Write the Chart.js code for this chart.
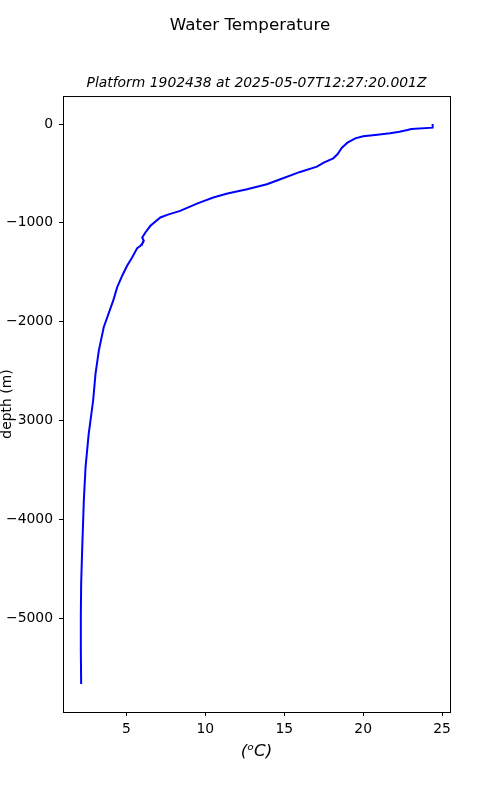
<!DOCTYPE html>
<html>
<head>
<meta charset="utf-8">
<script src="https://cdn.jsdelivr.net/npm/chart.js@4/dist/chart.umd.min.js"></script>
<style>
  html, body { margin: 0; padding: 0; background: #fff; }
  canvas { display: block; }
</style>
</head>
<body>
<canvas id="tempChart" width="500" height="800"></canvas>
<script>
// Profile, surface to bottom
const depth = [0, -37, -50, -60, -78, -94, -108, -125, -145, -189, -240, -306, -347, -391, -431, -485,
    -559, -609, -660, -704, -744, -805, -879, -919, -946, -1030, -1098, -1148, -1182, -1198, -1232, -1256,
    -1350, -1434, -1535, -1653, -1788, -2057, -2293, -2528, -2798, -3134, -3471, -3808, -4279, -4650,
    -4987, -5323, -5667];
const temperature = [24.4, 24.4, 23.05, 22.8, 22.3, 21.7, 20.9, 20.0, 19.5, 19.0, 18.65, 18.37, 18.1, 17.5, 17.07, 16.0,
    14.75, 13.9, 12.64, 11.4, 10.5, 9.47, 8.4, 7.58, 7.15, 6.52, 6.2, 6.0, 6.1, 6.05, 5.89, 5.68,
    5.36, 5.04, 4.73, 4.41, 4.16, 3.56, 3.25, 3.04, 2.89, 2.61, 2.41, 2.3, 2.2, 2.13,
    2.11, 2.11, 2.13];
const xTicks = [5, 10, 15, 20, 25];
const yTicks = [0, -1000, -2000, -3000, -4000, -5000];
const subtitleText = 'Platform 1902438 at 2025-05-07T12:27:20.001Z';

const FONT = "'DejaVu Sans', sans-serif";

// top/right spines, plus the subtitle centred over the axes (like matplotlib's ax title)
const frame = {
    id: 'frame',
    afterDraw(chart) {
        const { ctx, chartArea: a } = chart;
        ctx.save();
        ctx.strokeStyle = '#000';
        ctx.lineWidth = 1;
        ctx.strokeRect(a.left + 0.5, a.top + 0.5, a.right - a.left, a.bottom - a.top);
        ctx.fillStyle = '#000';
        ctx.font = 'italic 13.9px ' + FONT;
        ctx.textAlign = 'center';
        ctx.textBaseline = 'middle';
        ctx.fillText(subtitleText, (a.left + a.right) / 2, 83);
        ctx.restore();
    }
};

const points = depth.map((d, i) => ({ x: temperature[i], y: d }));

new Chart(document.getElementById('tempChart').getContext('2d'), {
    type: 'scatter',
    data: {
        datasets: [{
            data: points,
            showLine: true,
            borderColor: '#0000ff',
            borderWidth: 2,
            pointRadius: 0,
            tension: 0,
            yAxisID: 'y',
        }],
    },
    options: {
        responsive: false,
        animation: false,
        layout: { padding: { left: 0, right: 0, top: 0, bottom: 38 } },
        plugins: {
            legend: { display: false },
            tooltip: { enabled: false },
            title: {
                display: true,
                text: 'Water Temperature',
                color: '#000',
                font: { family: FONT, size: 16.7, weight: 'normal', lineHeight: 1.2 },
                padding: { top: 16, bottom: 60 },
            },
        },
        scales: {
            x: {
                type: 'linear',
                min: 0.98,
                max: 25.5,
                afterBuildTicks: (scale) => { scale.ticks = xTicks.map((v) => ({ value: v })); },
                afterFit: (scale) => { scale.height = 50; },
                ticks: {
                    color: '#000',
                    font: { family: FONT, size: 13.9 },
                    padding: 5,
                    maxRotation: 0,
                },
                grid: { drawOnChartArea: false, drawTicks: true, tickLength: 4, color: '#000' },
                border: { display: true, color: '#000' },
                title: {
                    display: true,
                    text: '(ᵒC)',
                    color: '#000',
                    font: { family: FONT, size: 16.7, style: 'italic' },
                    padding: { top: 4, bottom: 0 },
                },
            },
            y: {
                type: 'linear',
                min: -5950,
                max: 283,
                afterBuildTicks: (scale) => { scale.ticks = yTicks.map((v) => ({ value: v })); },
                afterFit: (scale) => { scale.width = 63; },
                ticks: {
                    color: '#000',
                    font: { family: FONT, size: 13.9 },
                    padding: 6,
                    callback: (v) => String(v).replace('-', '\u2212'),
                },
                grid: { drawOnChartArea: false, drawTicks: true, tickLength: 4, color: '#000' },
                border: { display: true, color: '#000' },
                title: {
                    display: true,
                    text: 'depth (m)',
                    color: '#000',
                    font: { family: FONT, size: 13.9, lineHeight: 1 },
                    padding: 0,
                },
            },
            // empty right-hand box so the plot ends at x=450
            yRight: {
                position: 'right',
                display: true,
                afterFit: (scale) => { scale.width = 50; },
                ticks: { display: false },
                grid: { display: false },
                border: { display: false },
            },
        },
    },
    plugins: [frame],
});
</script>
</body>
</html>
